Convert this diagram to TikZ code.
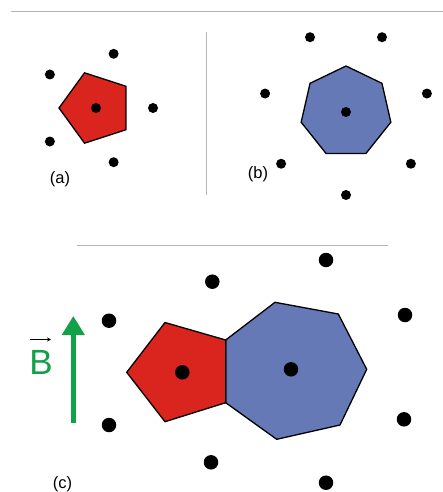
\documentclass[tikz,border=0pt]{standalone}
\usepackage{fontspec}
\setmainfont{Liberation Sans}
\usetikzlibrary{arrows.meta,calc}
\definecolor{cellred}{RGB}{218,36,30}
\definecolor{cellblue}{RGB}{101,121,182}
\definecolor{bgreen}{RGB}{18,160,72}
\definecolor{sepgray}{RGB}{180,180,180}
\tikzset{
  sepline/.style={draw=sepgray,line width=1pt},
  redcell/.style={fill=cellred,draw=black,line width=1.3pt,line join=miter},
  bluecell/.style={fill=cellblue,draw=black,line width=1.3pt,line join=miter},
  smalldot/.style={circle,fill=black,inner sep=0pt,minimum size=10pt},
  bigdot/.style={circle,fill=black,inner sep=0pt,minimum size=14.5pt},
  lbl/.style={font=\fontsize{16.5}{18}\selectfont,inner sep=0pt},
}
\begin{document}
\begin{tikzpicture}[x=1pt,y=-1pt]
\useasboundingbox (0,0) rectangle (443,492);
% separator lines
\coordinate (t1) at (11,12); \coordinate (t2) at (443,12);
\coordinate (v1) at (206,32); \coordinate (v2) at (206,195);
\coordinate (m1) at (77,245); \coordinate (m2) at (388,245);
\draw[sepline] (t1) -- (t2);
\draw[sepline] (v1) -- (v2);
\draw[sepline] (m1) -- (m2);
% (a)
\coordinate (ca) at (96,108);
\draw[redcell] ($(ca)+(180:37)$) -- ($(ca)+(108:37)$) -- ($(ca)+(36:37)$) -- ($(ca)+(-36:37)$) -- ($(ca)+(-108:37)$) -- cycle;
\node[smalldot] (a0) at (ca) {};
\foreach \ang [count=\i] in {0,72,144,-72,-144}
  \node[smalldot] (a\i) at ($(ca)+(\ang:57)$) {};
\node[lbl] (la) at (60,179) {(a)};
% (b)
\coordinate (cb) at (346,112);
\draw[bluecell] ($(cb)+(270:46)$)
  \foreach \k in {1,...,6} { -- ($(cb)+({270+\k*360/7}:46)$) } -- cycle;
\node[smalldot] (b0) at (cb) {};
\foreach \k in {0,...,6}
  \node[smalldot] (b\k x) at ($(cb)+({270+180/7+\k*360/7}:83)$) {};
\node[lbl] (lb) at (258,174) {(b)};
% (c)
\coordinate (p1) at (165,322.5);
\coordinate (p2) at (225.7,340);
\coordinate (p3) at (225.7,402.7);
\coordinate (p4) at (165,421.7);
\coordinate (p5) at (126.7,372.3);
\coordinate (h2) at (275,302.3);
\coordinate (h3) at (338.3,314);
\coordinate (h4) at (366.7,369.3);
\coordinate (h5) at (340,425);
\coordinate (h6) at (276.7,439.3);
\draw[bluecell] (p2) -- (h2) -- (h3) -- (h4) -- (h5) -- (h6) -- (p3) -- cycle;
\draw[redcell] (p1) -- (p2) -- (p3) -- (p4) -- (p5) -- cycle;
\node[bigdot] (cr) at (182.3,372.3) {};
\node[bigdot] (cbl) at (291,369.3) {};
\node[bigdot] (c1) at (326,260) {};
\node[bigdot] (c2) at (212.3,281.7) {};
\node[bigdot] (c3) at (109,320.7) {};
\node[bigdot] (c4) at (405,315) {};
\node[bigdot] (c5) at (109,425) {};
\node[bigdot] (c6) at (404,419.3) {};
\node[bigdot] (c7) at (211,462.3) {};
\node[bigdot] (c8) at (326,482.7) {};
\node[lbl] (lc) at (62.5,484) {(c)};
% field arrow
\coordinate (ftail) at (73.3,423);
\coordinate (fhead) at (73.3,316);
\draw[bgreen,line width=4.5pt,-{Triangle[length=19pt,width=22pt]}] (ftail) -- (fhead);
\node[text=bgreen,font=\fontsize{35}{38}\selectfont,inner sep=0pt,anchor=base] (bvec) at (41,374) {B};
\coordinate (va) at (29.5,339.5);
\coordinate (vb) at (51,339.5);
\draw[black,line width=0.9pt,-{Stealth[length=4pt,width=4pt]}] (va) -- (vb);
\end{tikzpicture}
\end{document}
